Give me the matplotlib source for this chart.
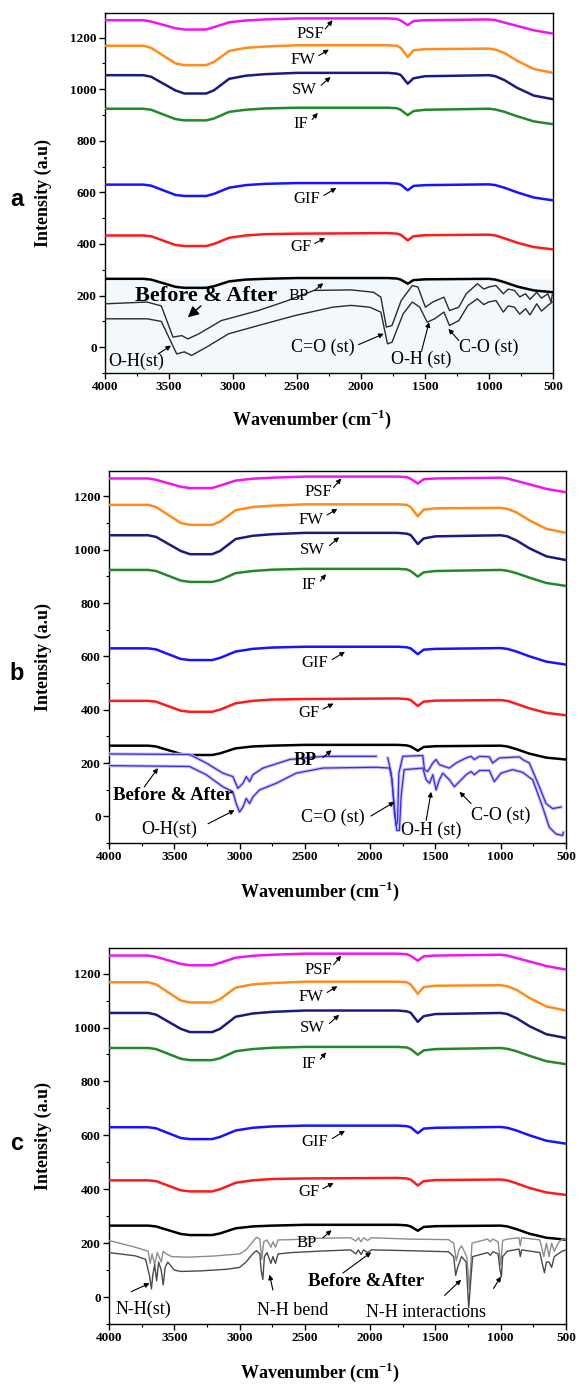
import numpy as np
import matplotlib
matplotlib.use("Agg")
import matplotlib.pyplot as plt
from matplotlib.ticker import MultipleLocator

plt.rcParams['font.family'] = ['Liberation Serif', 'DejaVu Serif']
plt.rcParams['mathtext.fontset'] = 'custom'
plt.rcParams['mathtext.rm'] = 'Liberation Serif'
plt.rcParams['mathtext.bf'] = 'Liberation Serif:bold'

# ---- membrane spectra (shared by all three panels) ----
wavenumber = [4000, 3700, 3640, 3450, 3380, 3210, 3150, 3030, 2900, 2750, 2500, 1790, 1720, 1690,
              1635, 1590, 1500, 1000, 950, 880, 780, 650, 500]
psf = [1267, 1267, 1262, 1236, 1231, 1231, 1240, 1259, 1266, 1270, 1274, 1274, 1272, 1266,
       1248, 1264, 1267, 1270, 1267, 1258, 1245, 1228, 1215]
fw = [1168, 1168, 1160, 1100, 1093, 1093, 1105, 1148, 1160, 1165, 1170, 1170, 1168, 1160,
      1125, 1150, 1155, 1157, 1153, 1140, 1110, 1078, 1063]
sw = [1054, 1054, 1048, 995, 983, 983, 995, 1040, 1052, 1058, 1063, 1063, 1060, 1055,
      1021, 1042, 1050, 1054, 1050, 1035, 1005, 975, 961]
if_ = [924, 924, 920, 884, 879, 879, 886, 912, 920, 925, 928, 928, 926, 920,
       899, 915, 920, 924, 921, 912, 895, 875, 864]
gif = [630, 630, 626, 590, 586, 586, 594, 618, 628, 633, 636, 636, 634, 630,
       608, 625, 628, 631, 628, 618, 600, 580, 569]
gf = [433, 433, 430, 396, 392, 392, 400, 424, 433, 438, 440, 442, 440, 436,
      414, 430, 434, 436, 433, 422, 405, 388, 379]
bp = [265, 265, 262, 234, 230, 230, 236, 255, 262, 265, 268, 268, 266, 262,
      246, 260, 263, 265, 262, 252, 235, 220, 213]

series_names = ["PSF", "FW", "SW", "IF", "GIF", "GF", "BP"]
series_values = [psf, fw, sw, if_, gif, gf, bp]
series_colors = ["#f214f0", "#ff8c1a", "#1b1b7e", "#22892a", "#1414ff", "#ff1a1a", "#000000"]
# label centre, arrow tail, arrow tip  (wavenumber, intensity)
label_pos = [(2396, 1215), (2454, 1112), (2440, 998), (2469, 866), (2425, 575), (2469, 388), (2489, 200)]
arrow_tail = [(2280, 1233), (2330, 1130), (2312, 1015), (2382, 882), (2290, 588), (2362, 402), (2362, 220)]
arrow_tip = [(2222, 1267), (2251, 1153), (2237, 1047), (2338, 908), (2193, 617), (2280, 423), (2295, 248)]

# ---- panel a: before / after adsorption ----
a_up_wn = [4000, 3672, 3560, 3469, 3400, 3353, 3266, 3092, 2802, 2570, 2367, 2077, 1903, 1845, 1802, 1758,
           1686, 1599, 1555, 1497, 1439, 1352, 1309, 1236, 1178, 1091, 1040, 1004, 946, 888, 850, 801, 760,
           714, 680, 627, 590, 540, 515, 505]
a_up_val = [168, 175, 160, 39, 45, 32, 52, 103, 142, 181, 220, 222, 213, 194, 78, 84,
            181, 239, 233, 155, 175, 194, 142, 155, 207, 246, 225, 233, 239, 207, 225, 220, 195,
            207, 185, 213, 190, 207, 175, 205]
a_lo_wn = [4000, 3672, 3560, 3440, 3380, 3324, 3208, 3034, 2802, 2512, 2222, 2077, 1932, 1845, 1793, 1758,
           1671, 1599, 1541, 1483, 1425, 1352, 1309, 1236, 1164, 1091, 1040, 1004, 946, 888, 850, 801, 760,
           714, 680, 627, 590, 540, 505]
a_lo_val = [110, 110, 100, -26, -18, -32, 0, 52, 84, 123, 155, 162, 155, 136, 13, 19,
            129, 175, 155, 97, 110, 136, 84, 103, 162, 187, 165, 175, 181, 136, 160, 155, 128,
            149, 125, 168, 140, 162, 175]

# ---- panel b: before / after adsorption ----
b_up_wn = [4000, 3383, 3255, 3128, 3051, 3013, 2974, 2949, 2923, 2898, 2821, 2617, 2362, 1954, np.nan,
           1865, 1839, 1814, 1801, 1790, 1780, 1750, 1597, 1584, 1559, 1520, 1495, 1470, 1431, 1393, 1342,
           1265, 1227, 1202, 1163, 1087, 1062, 1010, 857, 832, 781, 704, 653, 602, 538]
b_up_val = [234, 232, 200, 162, 149, 105, 124, 149, 130, 156, 181, 213, 225, 225, np.nan,
            219, 162, 35, -34, -20, 162, 225, 228, 175, 168, 200, 213, 194, 187, 181, 200,
            219, 225, 213, 225, 223, 200, 219, 223, 213, 200, 111, 48, 29, 35]
b_lo_wn = [4000, 3383, 3255, 3128, 3051, 3026, 3000, 2974, 2949, 2923, 2898, 2847, 2719, 2566, 2362, 1954,
           1852, 1832, 1814, 1796, 1776, 1763, 1740, 1597, 1571, 1545, 1520, 1495, 1470, 1444, 1393, 1355,
           1317, 1265, 1227, 1202, 1163, 1087, 1049, 998, 909, 832, 755, 679, 628, 577, 526, 520]
b_lo_val = [190, 187, 156, 111, 92, 48, 16, 35, 67, 48, 73, 99, 124, 162, 181, 184,
            181, 137, 10, -53, -53, 73, 175, 181, 137, 124, 156, 99, 137, 162, 137, 111,
            130, 156, 168, 156, 172, 172, 130, 162, 175, 165, 137, 35, -41, -66, -72, -60]

# ---- panel c: before / after adsorption ----
c_up_wn = [4000, 3800, 3700, 3685, 3670, 3650, 3630, 3600, 3585, 3560, 3520, 3400, 3200, 3000, 2950, 2900,
           2870, 2845, 2830, 2815, 2790, 2760, 2745, 2725, 2705, 2600, 2400, 2150, 2110, 2090, 2070, 2050,
           2020, 1990, 1700, 1400, 1360, 1340, 1320, 1300, 1260, 1240, 1220, 1100, 1080, 1060, 1020, 1000,
           985, 950, 860, 850, 840, 700, 670, 650, 630, 610, 590, 560, 530, 500]
c_up_val = [210, 185, 170, 125, 160, 120, 165, 130, 170, 160, 150, 148, 152, 160, 175, 205,
            222, 215, 140, 205, 212, 185, 205, 185, 212, 213, 218, 220, 208, 220, 205, 220,
            210, 220, 215, 213, 200, 135, 175, 190, 150, 30, 200, 215, 205, 215, 205, 120,
            210, 215, 220, 190, 220, 212, 150, 200, 150, 200, 170, 200, 215, 215]
c_lo_wn = [4000, 3800, 3720, 3690, 3675, 3665, 3650, 3635, 3620, 3600, 3585, 3570, 3550, 3500, 3450, 3300,
           3100, 3000, 2950, 2900, 2870, 2845, 2835, 2822, 2810, 2790, 2760, 2745, 2725, 2705, 2600, 2400,
           2150, 2110, 2090, 2070, 2050, 2020, 1990, 1700, 1400, 1360, 1345, 1330, 1300, 1265, 1245, 1230,
           1215, 1100, 1080, 1060, 1020, 1005, 995, 985, 950, 860, 850, 840, 700, 680, 665, 650, 630, 610,
           590, 560, 530, 500]
c_lo_val = [165, 153, 140, 80, 30, 80, 120, 60, 130, 100, 45, 110, 130, 100, 95, 97,
            103, 110, 130, 160, 172, 160, 100, 65, 150, 165, 125, 150, 125, 160, 165, 170,
            175, 160, 175, 158, 175, 165, 175, 172, 168, 150, 80, 110, 150, 130, -40, 60,
            150, 165, 155, 168, 160, 100, 75, 150, 170, 178, 150, 175, 165, 120, 90, 130, 130, 110,
            150, 160, 170, 175]

# band annotations: text, text centre, arrow tail, arrow tip
notes_a = [("O-H(st)", (3753, -54), (3585, -26), (3484, 6)),
           ("C=O (st)", (2295, 0), (2019, 10), (1822, 52)),
           ("O-H (st)", (1526, -49), (1526, -13), (1468, 97)),
           ("C-O (st)", (1004, 0), (1236, 26), (1317, 71))]
notes_b = [("O-H(st)", (3536, -47), (3242, -28), (3038, 23)),
           ("C=O (st)", (2286, -3), (1995, 1), (1814, 54)),
           ("O-H (st)", (1533, -53), (1571, -15), (1533, 92)),
           ("C-O (st)", (998, 4), (1227, 48), (1316, 92))]
notes_c = [("N-H(st)", (3740, -45), (3830, 20), (3689, 51)),
           ("N-H bend", (2592, -51), (2745, 26), (2770, 83)),
           ("N-H interactions", (1571, -57), (1430, 6), (1303, 64)),
           ("", (1000, 0), (1055, 32), (998, 76))]

W, H = 580, 1385
fig = plt.figure(figsize=(W / 100, H / 100), dpi=100)

boxes = [(105, 553, 13, 373), (109, 566, 471, 843), (109, 566, 948, 1324)]
ylabel_x = [-0.118, -0.124, -0.124]
letters = [("a", 199), ("b", 673), ("c", 1143)]
arrow_kw = dict(arrowstyle='-|>', color='black', lw=0.8, mutation_scale=7, shrinkA=0, shrinkB=0)


def make_axes(box, lx):
    l, r, t, b = box
    ax = fig.add_axes([l / W, 1 - b / H, (r - l) / W, (b - t) / H])
    ax.set_xlim(4000, 500)
    ax.set_ylim(-100, 1295)
    ax.xaxis.set_major_locator(MultipleLocator(500))
    ax.xaxis.set_minor_locator(MultipleLocator(250))
    ax.yaxis.set_minor_locator(MultipleLocator(100))
    ax.set_yticks([0, 200, 400, 600, 800, 1000, 1200])
    ax.tick_params(which='major', direction='out', length=4, width=1, pad=2, labelsize=9.5)
    ax.tick_params(which='minor', direction='out', length=2.5, width=0.8)
    for lab in ax.get_xticklabels() + ax.get_yticklabels():
        lab.set_fontweight('bold')
    for s in ax.spines.values():
        s.set_linewidth(1.0)
    ax.set_ylabel("Intensity (a.u)", fontsize=13, fontweight='bold')
    ax.yaxis.set_label_coords(lx, 0.5)
    ax.set_xlabel(r"Wavenumber (cm$^{\mathbf{-1}}$)", fontsize=13, fontweight='bold')
    ax.xaxis.set_label_coords(0.462, -0.13)
    ax.xaxis.label.set_va('center')
    return ax


def draw_membranes(ax, bp_bold=False):
    for name, vals, col, lp, tl, tp in zip(series_names, series_values, series_colors,
                                           label_pos, arrow_tail, arrow_tip):
        ax.plot(wavenumber, vals, color=col, lw=1.8, solid_joinstyle='round', zorder=3)
        if name == "BP" and bp_bold:
            ax.text(lp[0] + 10, lp[1] + 10, name, fontsize=13, fontweight='bold',
                    ha='center', va='center', zorder=5)
        else:
            ax.text(lp[0], lp[1], name, fontsize=12, ha='center', va='center', zorder=5)
        ax.annotate('', xy=tp, xytext=tl, arrowprops=arrow_kw, zorder=5)


def draw_notes(ax, notes, size=13):
    for txt, pos, tail, tip in notes:
        if txt:
            ax.text(pos[0], pos[1], txt, fontsize=size, ha='center', va='center', zorder=5)
        ax.annotate('', xy=tip, xytext=tail, arrowprops=arrow_kw, zorder=5)


axes = [make_axes(b, lx) for b, lx in zip(boxes, ylabel_x)]
for (ch, y) in letters:
    fig.text(17 / W, 1 - y / H, ch, fontsize=17, fontweight='bold',
             family='Liberation Sans', ha='center', va='center')

# panel a
ax = axes[0]
ax.axhspan(-100, 266, color='#f2f8fc', zorder=0, lw=0)
draw_membranes(ax)
ax.plot(a_up_wn, a_up_val, color='#2b2b2b', lw=1.0, zorder=4)
ax.plot(a_lo_wn, a_lo_val, color='#2b2b2b', lw=1.0, zorder=4)
ax.text(3210, 200, "Before & After", fontsize=16, fontweight='bold', ha='center', va='center', zorder=6)
ax.annotate('', xy=(3353, 116), xytext=(3250, 160),
            arrowprops=dict(arrowstyle='-|>', color='black', lw=1.0, mutation_scale=16,
                            shrinkA=0, shrinkB=0), zorder=6)
draw_notes(ax, notes_a)

# panel b
ax = axes[1]
draw_membranes(ax, bp_bold=True)
for wn, vals in ((b_up_wn, b_up_val), (b_lo_wn, b_lo_val)):
    ax.plot(wn, vals, color='#c6bff5', lw=2.4, zorder=3.5)
    ax.plot(wn, vals, color='#3a2ed4', lw=0.9, zorder=4)
ax.text(3510, 80, "Before & After", fontsize=13.5, fontweight='bold', ha='center', va='center', zorder=6)
ax.annotate('', xy=(3625, 181), xytext=(3730, 110), arrowprops=arrow_kw, zorder=6)
draw_notes(ax, notes_b)

# panel c
ax = axes[2]
draw_membranes(ax)
ax.plot(c_up_wn, c_up_val, color='#8c8c8c', lw=1.0, zorder=4)
ax.plot(c_lo_wn, c_lo_val, color='#4a4a4a', lw=1.0, zorder=4)
ax.text(2031, 57, "Before &After", fontsize=13.5, fontweight='bold', ha='center', va='center', zorder=6)
ax.annotate('', xy=(1992, 166), xytext=(2209, 89), arrowprops=arrow_kw, zorder=6)
draw_notes(ax, notes_c)

fig.savefig("out.png", dpi=100)
